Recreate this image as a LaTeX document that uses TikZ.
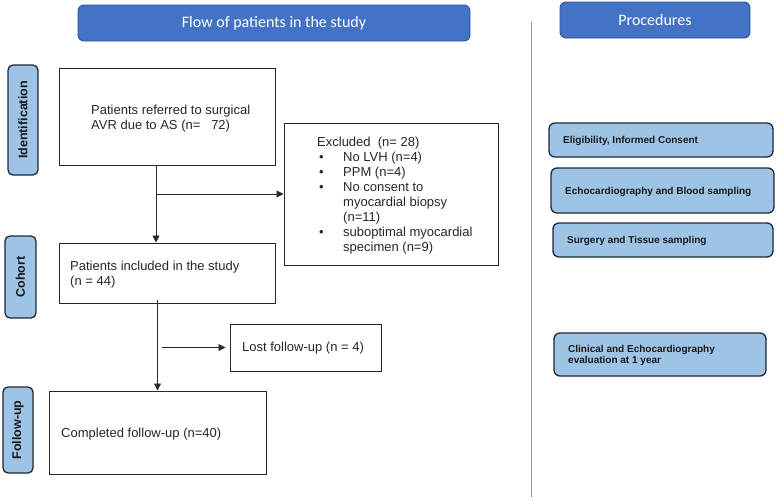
\documentclass[tikz,border=0pt]{standalone}
\usepackage{fontspec}
\setmainfont{Liberation Sans}
\newfontfamily\calfont{Carlito}
\usetikzlibrary{arrows.meta}
\definecolor{hdrblue}{HTML}{4472C4}
\definecolor{hdredge}{HTML}{2F528F}
\definecolor{lightblue}{HTML}{9DC3E6}
\definecolor{tabedge}{HTML}{1E2836}
\definecolor{arrgray}{HTML}{2A2A2A}
\tikzset{
  hdr/.style={draw=hdredge, line width=0.9pt, fill=hdrblue, rounded corners=6pt,
    text=white, font=\calfont\fontsize{16}{18}\selectfont, inner sep=0pt},
  flowbox/.style={draw=black!85, line width=1pt, inner sep=0pt},
  txt/.style={font=\fontsize{13}{15}\selectfont, align=left, inner sep=0pt, text=black!85},
  tabbox/.style={draw=tabedge, line width=1.3pt, fill=lightblue, rounded corners=5pt,
    font=\bfseries\fontsize{12.5}{14}\selectfont, inner sep=0pt, rotate=90, text=black!90},
  procbox/.style={draw=tabedge, line width=1.3pt, fill=lightblue, rounded corners=6pt, inner sep=0pt},
  ptxt/.style={font=\bfseries\fontsize{10}{11}\selectfont, align=left, inner sep=0pt, text=black!90},
  arr/.style={draw=arrgray, line width=0.8pt, -{Triangle[width=7pt,length=7pt]}}
}
\begin{document}
\begin{tikzpicture}[x=1pt,y=-1pt]
\useasboundingbox (0,0) rectangle (777,501);
% headers
\node[hdr, minimum width=392pt, minimum height=36pt] (hflow) at (274,23) {Flow of patients in the study};
\node[hdr, minimum width=190pt, minimum height=36pt] (hproc) at (655,20) {Procedures};
% divider
\coordinate (dtop) at (531.5,22);
\coordinate (dbot) at (531.5,497);
\draw[gray!80, line width=1.2pt] (dtop) -- (dbot);
% side tabs
\node[tabbox, minimum width=110pt, minimum height=30pt] (tid) at (23,120) {Identification};
\node[tabbox, minimum width=82pt, minimum height=31pt] (tco) at (20.5,277) {Cohort};
\node[tabbox, minimum width=86pt, minimum height=30pt] (tfu) at (18,430) {Follow-up};
% flow boxes
\node[flowbox, minimum width=216pt, minimum height=97pt] (b1) at (167,116.5) {};
\node[txt, anchor=west] (t1) at (91,118.5) {Patients referred to surgical\\AVR due to AS (n=\ \ \ 72)};
\node[flowbox, minimum width=214pt, minimum height=142pt] (ex) at (391,194) {};
\node[txt, anchor=west] (tex) at (317,196) {%
\begin{tabular}{@{}p{26pt}@{}l@{}}
\multicolumn{2}{@{}l@{}}{Excluded\ \ (n= 28)}\\
\hspace{2pt}\textbullet & No LVH (n=4)\\
\hspace{2pt}\textbullet & PPM (n=4)\\
\hspace{2pt}\textbullet & No consent to\\
 & myocardial biopsy\\
 & (n=11)\\
\hspace{2pt}\textbullet & suboptimal myocardial\\
 & specimen (n=9)
\end{tabular}};
\node[flowbox, minimum width=216pt, minimum height=60pt] (b2) at (167,273) {};
\node[txt, anchor=west] (t2) at (70,275) {Patients included in the study\\(n = 44)};
\node[flowbox, minimum width=151pt, minimum height=47pt] (lost) at (305.5,347.5) {};
\node[txt, anchor=west] (tl) at (242,348.5) {Lost follow-up (n = 4)};
\node[flowbox, minimum width=217pt, minimum height=83pt] (b3) at (157.5,432.5) {};
\node[txt, anchor=west] (t3) at (61,434) {Completed follow-up (n=40)};
% connectors
\coordinate (s1) at ([xshift=-11pt]b1.south);
\coordinate (j1) at (s1 |- ex.west);
\draw[arr] (s1) -- (s1 |- b2.north);
\draw[arr] (j1) -- (ex.west);
\coordinate (s2) at ([yshift=4pt]b2.south -| b3.north);
\draw[arr] (s2) -- (b3.north);
\coordinate (j2) at ([xshift=4.5pt]s2 |- lost.west);
\coordinate (e2) at ([xshift=-4pt]lost.west);
\draw[arr] (j2) -- (e2);
% procedures
\node[procbox, minimum width=224pt, minimum height=34pt] (p1) at (661,140) {};
\node[ptxt, anchor=west] (pt1) at (563,141) {Eligibility, Informed Consent};
\node[procbox, minimum width=223pt, minimum height=45pt] (p2) at (662.5,190.5) {};
\node[ptxt, anchor=west] (pt2) at (565,191.5) {Echocardiography and Blood sampling};
\node[procbox, minimum width=220pt, minimum height=34pt] (p3) at (663,240) {};
\node[ptxt, anchor=west] (pt3) at (567,241) {Surgery and Tissue sampling};
\node[procbox, minimum width=212pt, minimum height=43pt] (p4) at (660,354.5) {};
\node[ptxt, anchor=west] (pt4) at (568,355) {Clinical and Echocardiography\\evaluation at 1 year};
\end{tikzpicture}
\end{document}
